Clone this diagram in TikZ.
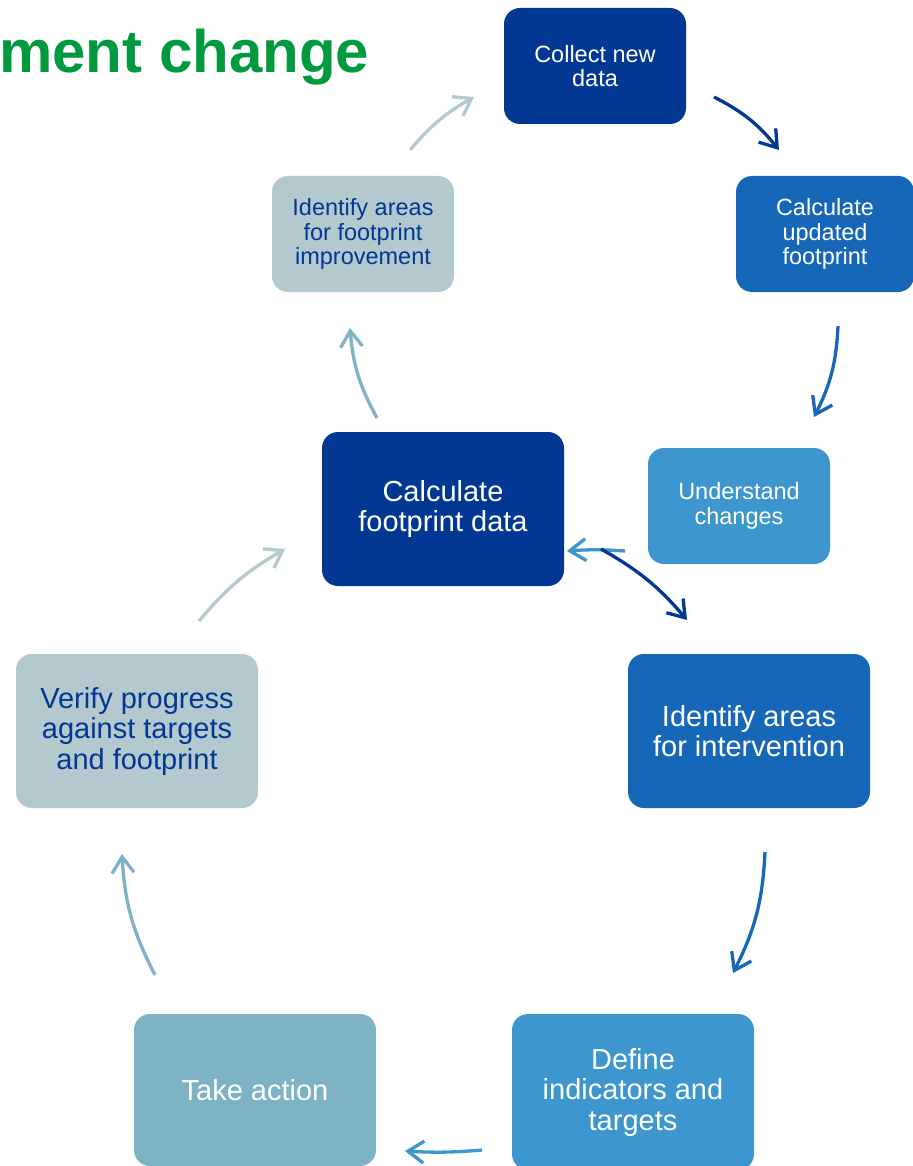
\documentclass[tikz,border=0pt]{standalone}
\usepackage{fontspec}
\setmainfont{Liberation Sans}
\usetikzlibrary{arrows.meta}
\definecolor{cDark}{HTML}{023894}
\definecolor{cMid}{HTML}{1767B8}
\definecolor{cLight}{HTML}{3D96CE}
\definecolor{cTeal}{HTML}{7DB3C4}
\definecolor{cGrey}{HTML}{B3C9CD}
\definecolor{cGreen}{HTML}{009A3E}
\tikzset{
  box/.style={rectangle, rounded corners=16pt, inner sep=0pt, align=center, draw=none},
  smallbox/.style={box, minimum width=182pt, minimum height=116pt, font=\fontsize{23.5}{24.5}\selectfont},
  bigbox/.style={box, minimum width=242pt, minimum height=154pt, font=\fontsize{29}{30.5}\selectfont},
  flow/.style={line width=3.3pt, -{Straight Barb[length=16pt,width=22pt,line width=3.3pt]}},
}
\begin{document}
\begin{tikzpicture}[x=1pt,y=-1pt]
\useasboundingbox (0,0) rectangle (912,1166);
% title
\node[anchor=base west, inner sep=0pt, text=cGreen, font=\fontsize{60}{63}\selectfont\bfseries] (title) at (-1,73) {ment change};
% boxes
\node[smallbox, fill=cDark, text=white] (collect) at (595,66) {Collect new\\data};
\node[smallbox, fill=cMid, text=white, minimum width=178pt] (calcupd) at (825,234) {Calculate\\updated\\footprint};
\node[smallbox, fill=cLight, text=white] (understand) at (739,506) {Understand\\changes};
\node[bigbox, fill=cDark, text=white] (calcfp) at (443,509) {Calculate\\footprint data};
\node[bigbox, fill=cMid, text=white] (interv) at (749,731) {Identify areas\\for intervention};
\node[bigbox, fill=cLight, text=white, minimum height=156pt] (define) at (633,1092) {Define\\indicators and\\targets};
\node[bigbox, fill=cTeal, text=white, minimum height=152pt] (action) at (255,1090) {Take action};
\node[bigbox, fill=cGrey, text=cDark] (verify) at (137,731) {Verify progress\\against targets\\and footprint};
\node[smallbox, fill=cGrey, text=cDark] (improve) at (363,234) {Identify areas\\for footprint\\improvement};
% arrow end points
\coordinate (a1s) at (714,97);   \coordinate (a1e) at (779,150);
\coordinate (a2s) at (838,326);  \coordinate (a2e) at (814,417);
\coordinate (a3s) at (625,551);  \coordinate (a3e) at (567,551);
\coordinate (a4s) at (601,549);  \coordinate (a4e) at (687,620);
\coordinate (a5s) at (765,852);  \coordinate (a5e) at (733,973);
\coordinate (a6s) at (482,1150); \coordinate (a6e) at (405,1151);
\coordinate (a7s) at (155,975);  \coordinate (a7e) at (122,854);
\coordinate (a8s) at (199,621);  \coordinate (a8e) at (285,549);
\coordinate (a9s) at (377,418);  \coordinate (a9e) at (350,328);
\coordinate (a10s) at (410,150); \coordinate (a10e) at (474,97);
% arrows
\draw[flow, cDark] (a1s) to[bend left=12] (a1e);
\draw[flow, cMid] (a2s) to[bend left=12] (a2e);
\draw[flow, cLight] (a3s) to[bend right=4] (a3e);
\draw[flow, cDark] (a4s) to[bend left=10] (a4e);
\draw[flow, cMid] (a5s) to[bend left=12] (a5e);
\draw[flow, cLight] (a6s) to[bend left=4] (a6e);
\draw[flow, cTeal] (a7s) to[bend left=12] (a7e);
\draw[flow, cGrey] (a8s) to[bend left=10] (a8e);
\draw[flow, cTeal] (a9s) to[bend left=12] (a9e);
\draw[flow, cGrey] (a10s) to[bend left=10] (a10e);
\end{tikzpicture}
\end{document}
